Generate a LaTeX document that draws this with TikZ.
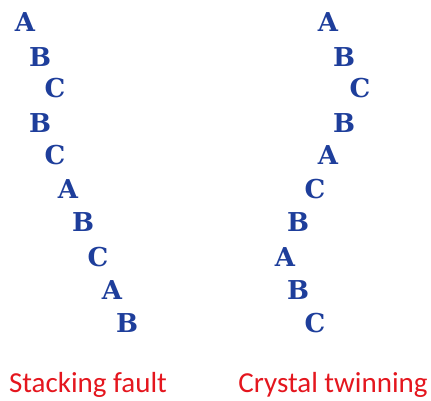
\documentclass[tikz,border=0pt]{standalone}
\usepackage{fontspec}
\setmainfont{DejaVu Serif}
\newfontfamily\labelfont{Carlito}
\definecolor{layerblue}{RGB}{30,62,155}
\definecolor{labelred}{RGB}{228,22,30}

\begin{document}
\begin{tikzpicture}[x=1pt, y=-1pt, every node/.style={inner sep=0pt, font=\fontsize{26}{26}\selectfont\bfseries, text=layerblue}]
  \useasboundingbox (0,0) rectangle (431,401);

  % Stacking fault sequence (left)
  \node (l1)  at (25,22)   {A};
  \node (l2)  at (40,57)   {B};
  \node (l3)  at (55,88)   {C};
  \node (l4)  at (40,123)  {B};
  \node (l5)  at (55,155)  {C};
  \node (l6)  at (68,189)  {A};
  \node (l7)  at (83,222)  {B};
  \node (l8)  at (98,257)  {C};
  \node (l9)  at (112,290) {A};
  \node (l10) at (127,323) {B};

  % Crystal twinning sequence (right)
  \node (r1)  at (328,22)  {A};
  \node (r2)  at (344,57)  {B};
  \node (r3)  at (360,88)  {C};
  \node (r4)  at (344,123) {B};
  \node (r5)  at (328,155) {A};
  \node (r6)  at (315,189) {C};
  \node (r7)  at (298,222) {B};
  \node (r8)  at (285,257) {A};
  \node (r9)  at (298,290) {B};
  \node (r10) at (315,323) {C};

  % Captions
  \node[font=\labelfont\fontsize{29}{29}\selectfont, text=labelred] (fault) at (88,385) {Stacking fault};
  \node[font=\labelfont\fontsize{29}{29}\selectfont, text=labelred] (twin) at (333,385) {Crystal twinning};
\end{tikzpicture}
\end{document}
